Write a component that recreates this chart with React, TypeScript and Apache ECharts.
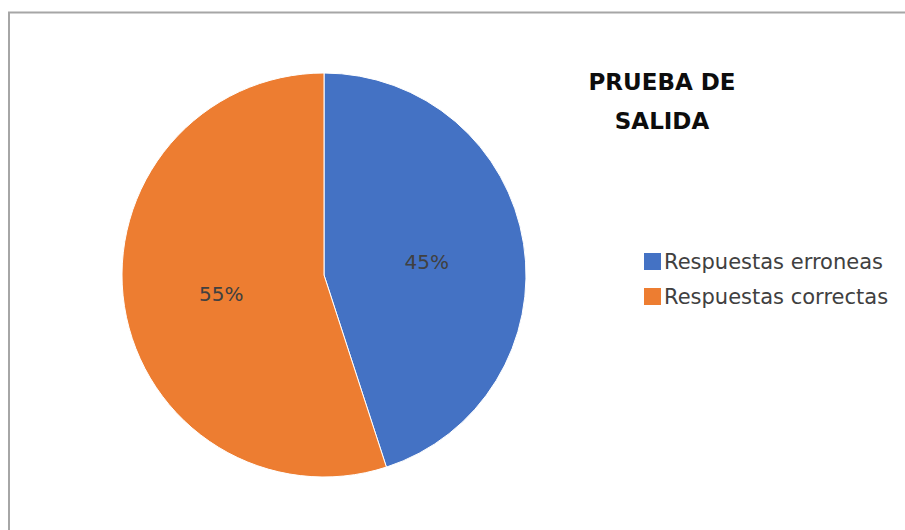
import React, { useEffect, useRef } from "react";
import * as echarts from "echarts";

const categories = ["Respuestas erroneas", "Respuestas correctas"];
const values = [45, 55];
const colors = ["#4472C4", "#ED7D31"];
const titleText = "PRUEBA DE\nSALIDA";

export default function App() {
  const ref = useRef<HTMLDivElement>(null);
  useEffect(() => {
    if (!ref.current) return;
    const chart = echarts.init(ref.current, null, { renderer: "svg" });
    chart.setOption({
      animation: false,
      backgroundColor: "#ffffff",
      title: {
        text: titleText,
        left: 657,
        top: 57,
        textAlign: "center",
        textStyle: {
          fontFamily: "DejaVu Sans",
          fontWeight: "bold",
          fontSize: 23,
          lineHeight: 39,
          color: "#0d0d0d",
        },
      },
      legend: {
        orient: "vertical",
        left: 637,
        top: 246,
        itemWidth: 19,
        itemHeight: 19,
        itemGap: 14,
        icon: "rect",
        textStyle: { fontFamily: "DejaVu Sans", fontSize: 21, lineHeight: 19, color: "#404040", padding: [0, 0, 0, -3] },
        data: categories,
      },
      graphic: [
        {
          type: "polyline",
          shape: { points: [[9, 530], [9, 12.5], [905, 12.5]] },
          style: { stroke: "#a6a6a6", lineWidth: 2, fill: null },
          silent: true,
        },
      ],
      series: [
        {
          type: "pie",
          center: [324, 275],
          radius: [0, 202],
          startAngle: 90,
          clockwise: true,
          color: colors,
          itemStyle: { borderColor: "#ffffff", borderWidth: 1 },
          label: {
            position: "inside",
            formatter: "{d}%",
            fontFamily: "DejaVu Sans",
            fontSize: 20,
            color: "#404040",
            offset: [0, 3],
          },
          labelLine: { show: false },
          data: categories.map((c, i) => ({ name: c, value: values[i] })),
        },
      ],
    });
    return () => chart.dispose();
  }, []);
  return (
    <div
      ref={ref}
      style={{ position: "fixed", left: 0, top: 0, width: 905, height: 530 }}
    />
  );
}
